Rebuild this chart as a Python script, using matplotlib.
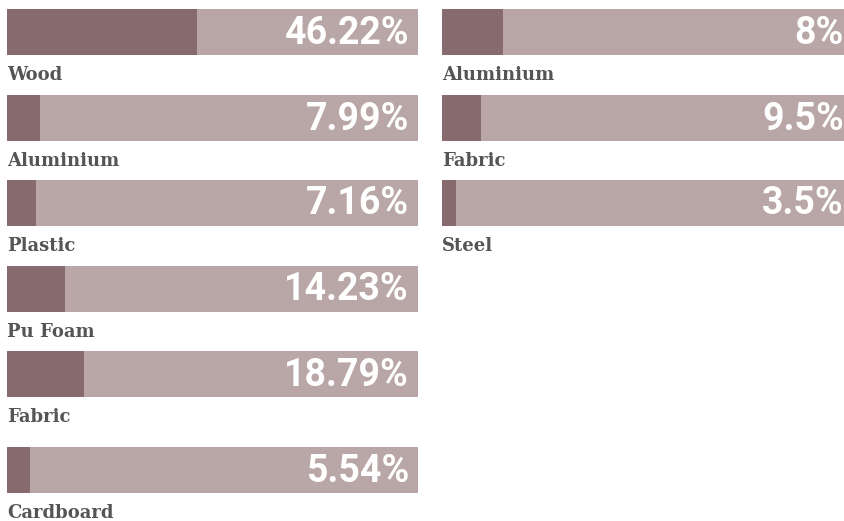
import matplotlib
matplotlib.use("Agg")
import matplotlib.pyplot as plt

# left column
left_names = ["Wood", "Aluminium", "Plastic", "Pu Foam", "Fabric", "Cardboard"]
left_labels = ["46.22%", "7.99%", "7.16%", "14.23%", "18.79%", "5.54%"]
left_fill = [46.22, 7.99, 7.16, 14.23, 18.79, 5.54]

# right column (fill of the first bar is drawn longer than its label in the original)
right_names = ["Aluminium", "Fabric", "Steel"]
right_labels = ["8%", "9.5%", "3.5%"]
right_fill = [14.8, 9.5, 3.5]

DARK = "#876a6e"
LIGHT = "#b9a6a7"
LABEL = "#555555"

W, H = 845, 521
fig = plt.figure(figsize=(W / 100, H / 100), dpi=100)
ax = fig.add_axes([0, 0, 1, 1])
ax.set_xlim(0, W)
ax.set_ylim(H, 0)
ax.axis("off")

BAR_W = 411
BAR_H = 46


def column(x0, tops, names, labels, fills):
    for top, name, lab, f in zip(tops, names, labels, fills):
        yc = top + BAR_H / 2
        ax.barh(yc, BAR_W, left=x0, height=BAR_H, color=LIGHT, linewidth=0)
        ax.barh(yc, BAR_W * f / 100, left=x0, height=BAR_H, color=DARK, linewidth=0)
        ax.text(x0 + BAR_W - 9, yc + 1, lab, ha="right", va="center",
                color="white", fontsize=27, fontweight="bold", family="Roboto")
        ax.text(x0, top + BAR_H + 20, name, ha="left", va="center",
                color=LABEL, fontsize=13, fontweight="bold", family="DejaVu Serif")


column(7, [9, 95, 180, 266, 351, 447], left_names, left_labels, left_fill)
column(442, [9, 95, 180], right_names, right_labels, right_fill)

fig.savefig("out.png", dpi=100)
